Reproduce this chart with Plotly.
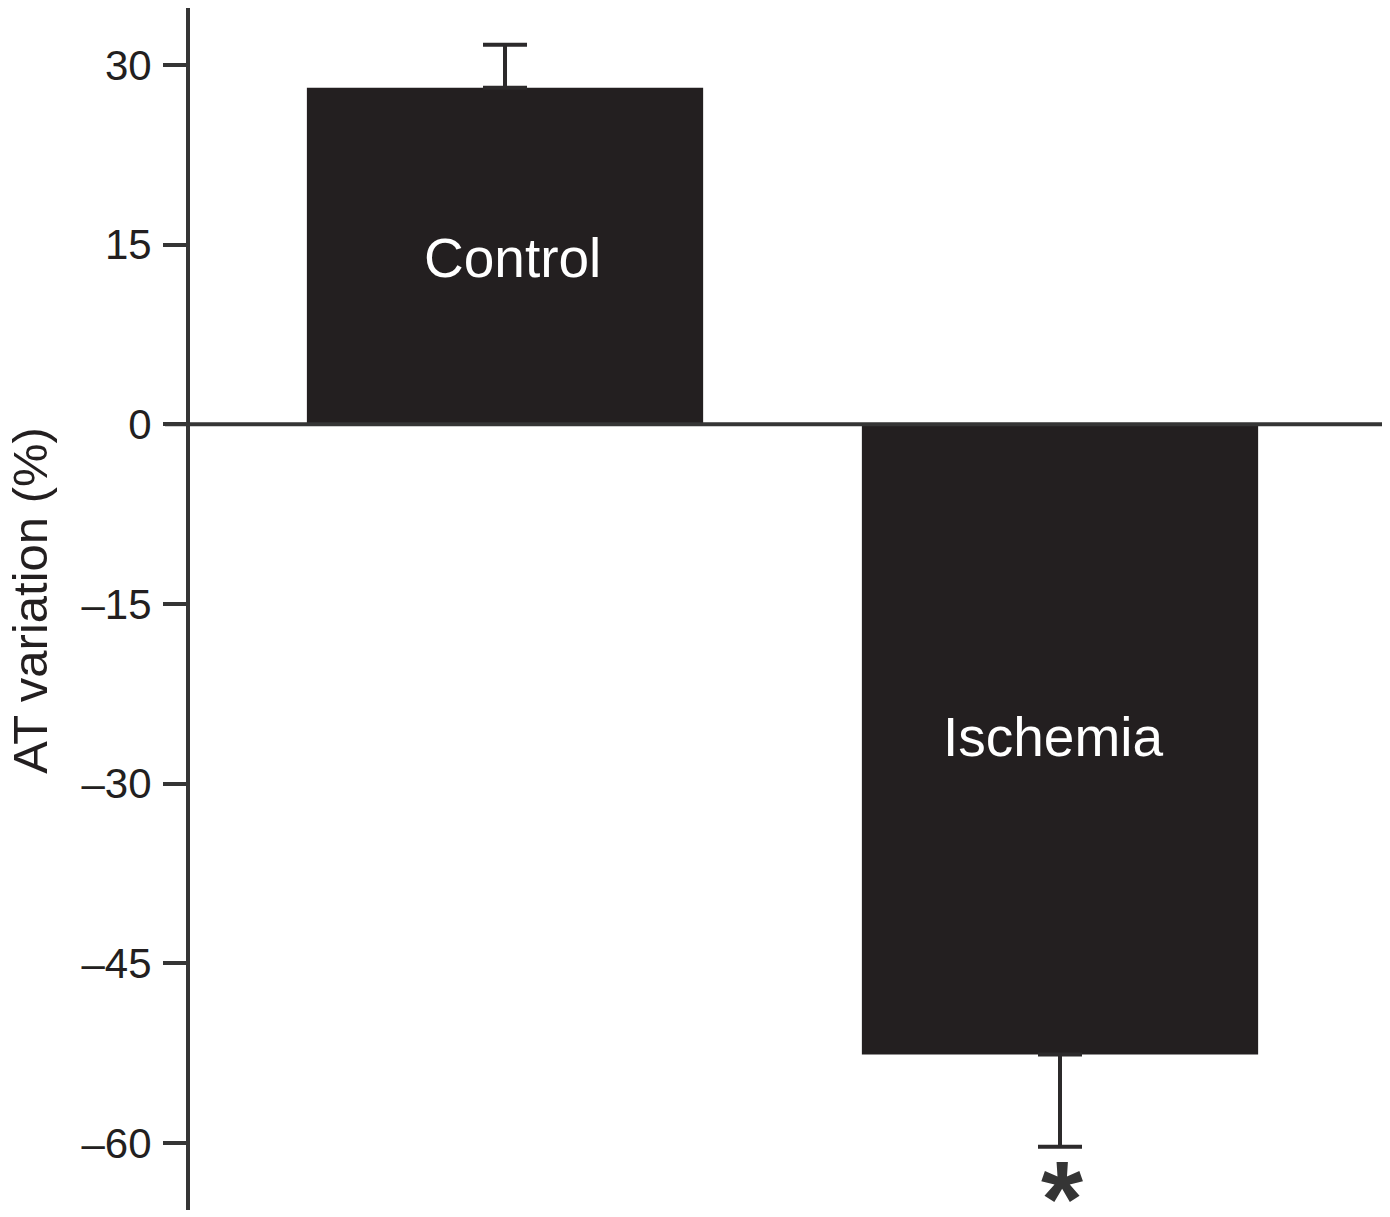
import plotly.graph_objects as go

categories = ["Control", "Ischemia"]
values = [28.1, -52.6]
err_plus = [3.6, 0]
err_minus = [0, 7.7]
tick_vals = [30, 15, 0, -15, -30, -45, -60]
tick_text = ["30", "15", "0", "–15", "–30", "–45", "–60"]
y_title = "AT variation (%)"

dark = "#231f20"
line_col = "#353535"
font_family = "Liberation Sans, Arial, Helvetica, sans-serif"

x_pos = list(range(len(categories)))

fig = go.Figure()
fig.add_trace(go.Bar(
    x=x_pos, y=values, width=0.714,
    marker=dict(color=dark, line=dict(width=0)),
    error_y=dict(type="data", symmetric=False, array=err_plus, arrayminus=err_minus,
                 color="#2c2a2b", thickness=4, width=22),
    showlegend=False, hoverinfo="skip",
))

# labels inside bars
label_offsets = [(0.014, 13.93), (-0.0135, -26.1)]
for i, cat in enumerate(categories):
    dx, yv = label_offsets[i]
    fig.add_annotation(x=x_pos[i] + dx, y=yv, text=cat, showarrow=False,
                       font=dict(family=font_family, size=55, color="white"),
                       xanchor="center", yanchor="middle")

# significance asterisk
fig.add_annotation(x=1.003, y=-64.6, text="<b>*</b>", showarrow=False,
                   font=dict(family=font_family, size=108, color=line_col),
                   xanchor="center", yanchor="middle")

# zero line extending to tick start
fig.add_shape(type="line", xref="paper", yref="y", x0=-0.0209, x1=1.0, y0=0, y1=0,
              line=dict(color=line_col, width=4), layer="above")

# y axis title
fig.add_annotation(xref="paper", yref="paper", x=-0.1340, y=0.5075, text=y_title,
                   textangle=-90, showarrow=False,
                   font=dict(family=font_family, size=49, color=dark),
                   xanchor="center", yanchor="middle")

fig.update_layout(
    width=1382, height=1209,
    margin=dict(l=182, r=5, t=0, b=7),
    paper_bgcolor="white", plot_bgcolor="white",
    xaxis=dict(range=[-0.5676, 1.5856], visible=False, fixedrange=True),
    yaxis=dict(range=[-65.59, 34.76], tickvals=tick_vals, ticktext=tick_text,
               showline=True, linewidth=4, linecolor=line_col,
               ticks="outside", ticklen=23, tickwidth=4, tickcolor=line_col,
               ticklabelstandoff=3,
               showgrid=False, zeroline=False,
               tickfont=dict(family=font_family, size=42, color=dark)),
)

fig.write_html("out.html")
